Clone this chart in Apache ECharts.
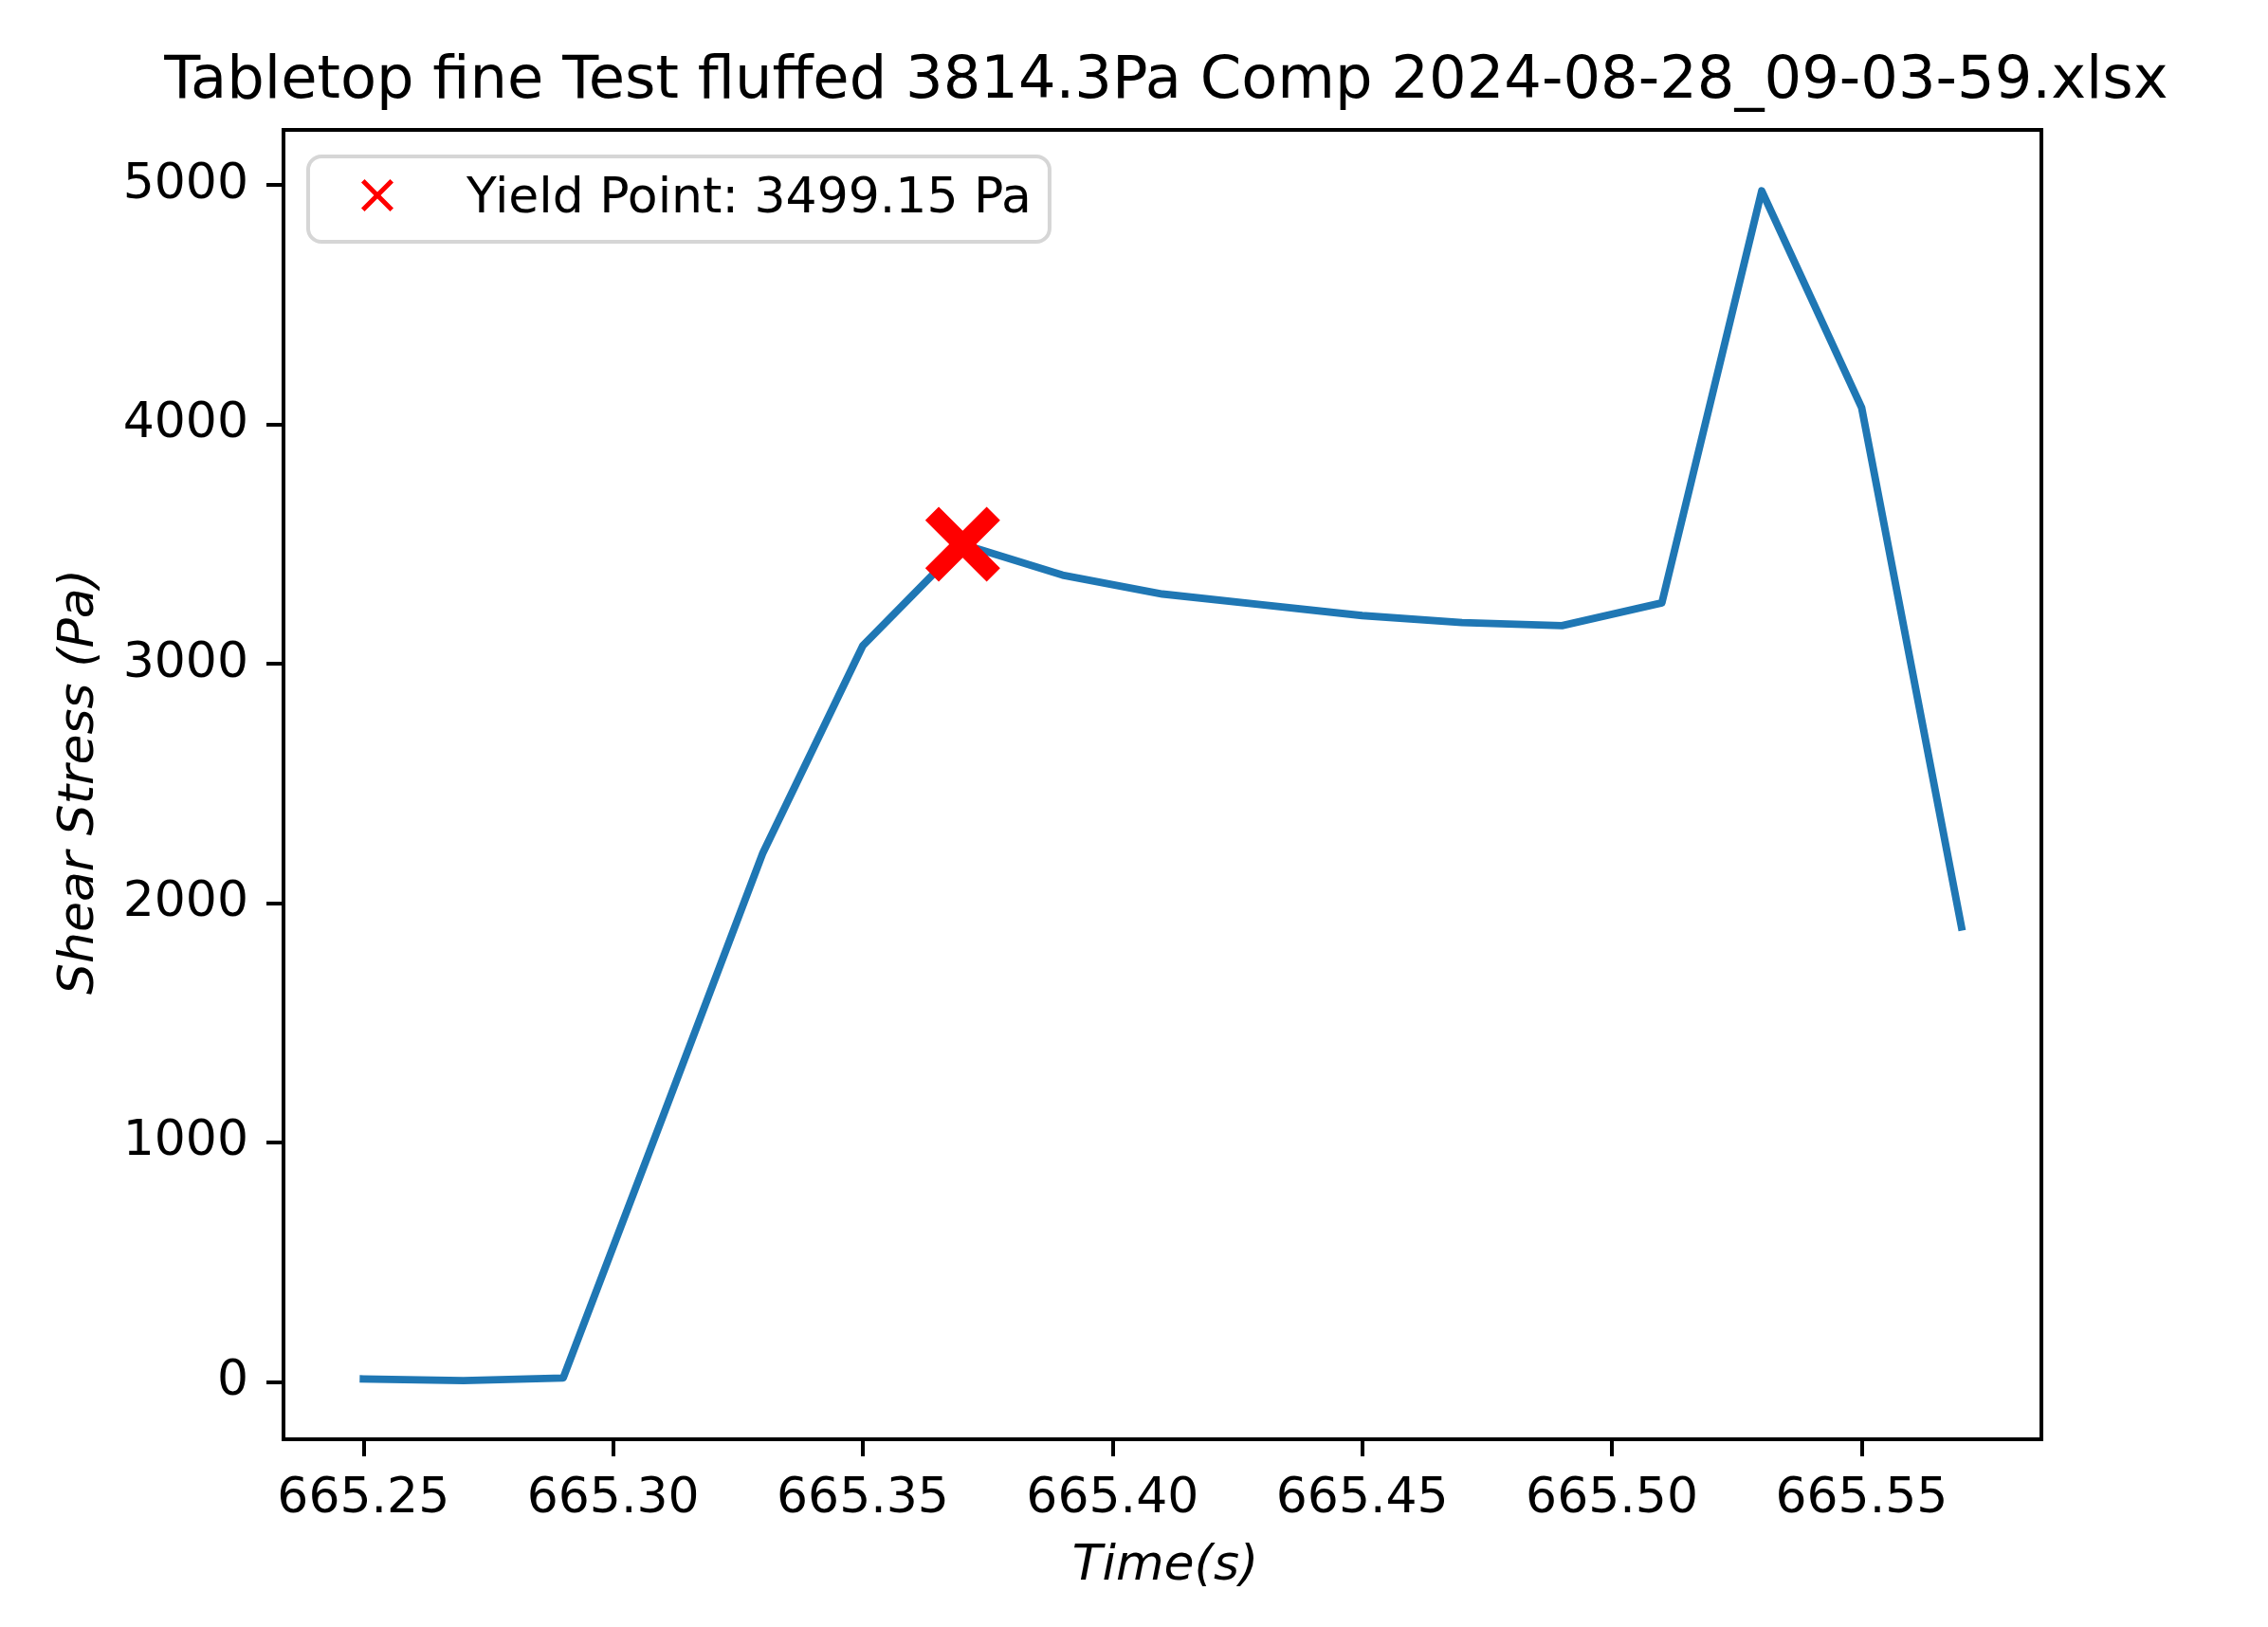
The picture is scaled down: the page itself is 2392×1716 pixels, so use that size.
<!DOCTYPE html>
<html>
<head>
<meta charset="utf-8">
<script src="https://cdn.jsdelivr.net/npm/echarts@6/dist/echarts.min.js"></script>
<style>
html,body{margin:0;padding:0;background:#fff;}
#chart{width:2392px;height:1716px;}
</style>
</head>
<body>
<div id="chart"></div>
<script>
// ---- data ----
const times = [665.25, 665.27, 665.29, 665.31, 665.33, 665.35, 665.37, 665.39, 665.41, 665.43, 665.45, 665.47, 665.49, 665.51, 665.53, 665.55, 665.57];
const stress = [12, 5, 16, 1110, 2210, 3075, 3499.15, 3370, 3291, 3246, 3201, 3172, 3159, 3254, 4975, 4070, 1900];
const yieldTime = [665.37];
const yieldStress = [3499.15];
const xTicks = [665.25, 665.30, 665.35, 665.40, 665.45, 665.50, 665.55];
const yTicks = [0, 1000, 2000, 3000, 4000, 5000];
const titleText = 'Tabletop fine Test fluffed 3814.3Pa Comp 2024-08-28_09-03-59.xlsx';
const legendText = 'Yield Point: 3499.15 Pa';

// "x" marker outline in a 100x100 box; a = corner cut (arm thickness / sqrt 2)
function xShape(a) {
  const b = 100 - a;
  return 'M' + a + ',0 L50,' + (50 - a) + ' L' + b + ',0 L100,' + a +
    ' L' + (50 + a) + ',50 L100,' + b + ' L' + b + ',100 L50,' + (50 + a) +
    ' L' + a + ',100 L0,' + b + ' L' + (50 - a) + ',50 L0,' + a + ' Z';
}
const markerPath = 'path://' + xShape(18);
// legend icon: thin x sitting in the upper part of a taller box
const legendIconPath = 'path://' + xShape(10.4) + ' M50,124 L50.01,124 L50,123.99 Z';

const font = 'DejaVu Sans';
const chart = echarts.init(document.getElementById('chart'), null, {renderer: 'canvas'});
chart.setOption({
  animation: false,
  backgroundColor: '#ffffff',
  title: {
    text: titleText,
    left: 1225,
    top: 51,
    textAlign: 'center',
    textStyle: {fontFamily: font, fontSize: 62.3, fontWeight: 'normal', color: '#000', lineHeight: 62.3}
  },
  grid: {
    left: 299, right: 239, top: 137, bottom: 198,
    show: true, borderColor: '#000', borderWidth: 4, backgroundColor: 'transparent'
  },
  legend: {
    left: 325, top: 165,
    orient: 'vertical',
    padding: [19, 19, 19, 56],
    backgroundColor: '#fff',
    borderColor: '#d6d6d6', borderWidth: 4, borderRadius: 14,
    itemWidth: 34, itemHeight: 42.16,
    selectedMode: false,
    data: [{name: legendText, icon: legendIconPath}],
    textStyle: {fontFamily: font, fontSize: 52, color: '#000', lineHeight: 52, padding: [0, 0, 0, 72]}
  },
  xAxis: {
    type: 'value',
    min: 665.234, max: 665.586,
    name: 'Time(s)', nameLocation: 'middle', nameGap: 108,
    nameTextStyle: {fontFamily: font, fontSize: 52, fontStyle: 'italic', color: '#000', lineHeight: 52, padding: [0, 0, 0, 6]},
    splitLine: {show: false},
    axisLine: {show: true, onZero: false, lineStyle: {color: '#000', width: 4}},
    axisTick: {show: true, inside: false, length: 18, lineStyle: {color: '#000', width: 4}, customValues: xTicks},
    axisLabel: {
      show: true, margin: 37.5, fontFamily: font, fontSize: 52, color: '#000',
      customValues: xTicks,
      formatter: v => v.toFixed(2)
    }
  },
  yAxis: {
    type: 'value',
    min: -240, max: 5230,
    name: 'Shear Stress (Pa)', nameLocation: 'middle', nameGap: 189,
    nameTextStyle: {fontFamily: font, fontSize: 52, fontStyle: 'italic', color: '#000', lineHeight: 52, padding: [0, 0, 0, 6]},
    splitLine: {show: false},
    axisLine: {show: true, onZero: false, lineStyle: {color: '#000', width: 4}},
    axisTick: {show: true, inside: false, length: 18, lineStyle: {color: '#000', width: 4}, customValues: yTicks},
    axisLabel: {
      show: true, margin: 37, fontFamily: font, fontSize: 52, color: '#000', padding: [11, 0, 0, 0],
      customValues: yTicks,
      formatter: v => String(v)
    }
  },
  series: [
    {
      name: 'stress',
      type: 'line',
      data: times.map((t, i) => [t, stress[i]]),
      showSymbol: false,
      symbol: 'none',
      lineStyle: {color: '#1f77b4', width: 7.9, join: 'round', cap: 'square'},
      itemStyle: {color: '#1f77b4'},
      z: 2
    },
    {
      name: legendText,
      type: 'scatter',
      data: yieldTime.map((t, i) => [t, yieldStress[i]]),
      symbol: markerPath,
      symbolSize: 79,
      itemStyle: {color: '#ff0000', opacity: 1},
      z: 5
    }
  ]
});
</script>
</body>
</html>
